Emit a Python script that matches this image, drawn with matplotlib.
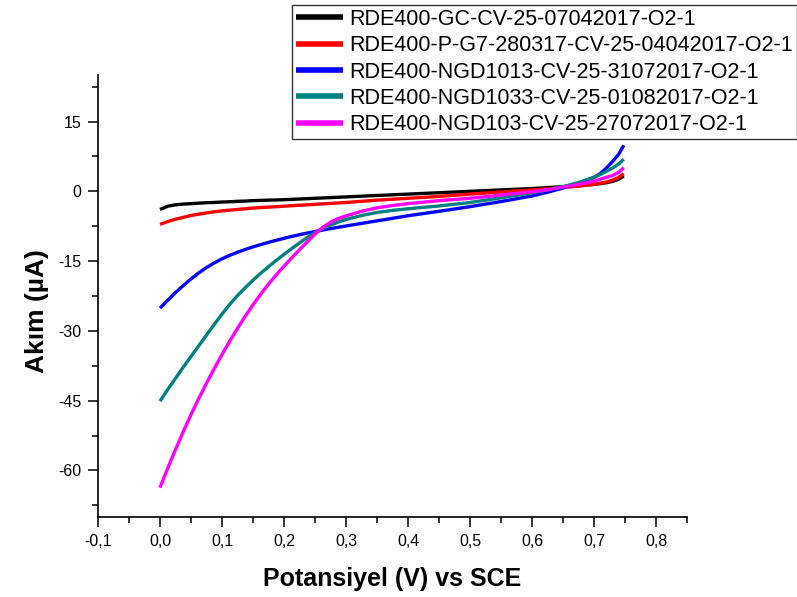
import matplotlib
matplotlib.use("Agg")
import matplotlib.pyplot as plt
from matplotlib.ticker import MultipleLocator, FuncFormatter

# Potential (V vs SCE) at which each current was read
potential = [0.0, 0.0125, 0.025, 0.0375, 0.05, 0.0625, 0.075, 0.0875, 0.1, 0.1125,
             0.125, 0.1375, 0.15, 0.1625, 0.175, 0.1875, 0.2, 0.2125, 0.225, 0.2375,
             0.25, 0.2625, 0.275, 0.2875, 0.3, 0.325, 0.35, 0.375, 0.4, 0.45,
             0.5, 0.55, 0.6, 0.625, 0.65, 0.675, 0.7, 0.71, 0.72, 0.73,
             0.74, 0.748]

# Current (µA) for each electrode
gc = [-3.9, -3.2, -2.9, -2.75, -2.65, -2.55, -2.45, -2.4, -2.3, -2.25,
      -2.15, -2.1, -2.0, -1.95, -1.9, -1.85, -1.8, -1.72, -1.65, -1.58,
      -1.5, -1.43, -1.35, -1.28, -1.2, -1.05, -0.9, -0.75, -0.6, -0.3,
      0.0, 0.3, 0.6, 0.8, 1.0, 1.2, 1.5, 1.65, 1.85, 2.15,
      2.6, 3.3]
pg7 = [-7.1, -6.5, -6.0, -5.6, -5.2, -4.9, -4.65, -4.4, -4.2, -4.05,
       -3.9, -3.75, -3.6, -3.5, -3.4, -3.3, -3.2, -3.1, -3.0, -2.9,
       -2.8, -2.7, -2.6, -2.5, -2.4, -2.15, -1.9, -1.7, -1.5, -1.1,
       -0.6, -0.15, 0.3, 0.55, 0.8, 1.1, 1.5, 1.75, 2.0, 2.4,
       3.0, 3.8]
ngd1013 = [-25.1, -23.4, -21.78, -20.26, -18.84, -17.54, -16.39, -15.39, -14.5, -13.75,
           -13.1, -12.5, -11.95, -11.45, -10.98, -10.53, -10.1, -9.7, -9.32, -8.97,
           -8.64, -8.32, -8.02, -7.73, -7.45, -6.9, -6.35, -5.8, -5.25, -4.3,
           -3.3, -2.2, -1.0, -0.2, 0.7, 1.7, 3.0, 3.8, 5.0, 6.4,
           8.0, 9.9]
ngd1033 = [-45.1, -42.6, -40.2, -37.8, -35.5, -33.2, -30.9, -28.6, -26.4, -24.3,
           -22.4, -20.7, -19.1, -17.6, -16.2, -14.85, -13.55, -12.3, -11.1, -9.95,
           -8.9, -8.0, -7.25, -6.6, -6.05, -5.2, -4.55, -4.1, -3.75, -3.15,
           -2.4, -1.4, -0.3, 0.3, 1.0, 1.9, 3.0, 3.6, 4.3, 5.0,
           5.9, 6.9]
ngd103 = [-63.7, -59.5, -55.5, -51.65, -48.0, -44.55, -41.25, -38.1, -35.1, -32.2,
          -29.45, -26.85, -24.4, -22.1, -19.95, -17.95, -16.1, -14.3, -12.55, -10.85,
          -9.2, -7.75, -6.65, -5.85, -5.3, -4.3, -3.55, -3.05, -2.65, -2.0,
          -1.5, -0.8, -0.1, 0.35, 0.9, 1.5, 2.2, 2.6, 3.0, 3.4,
          4.1, 5.1]

series = [
    ("RDE400-GC-CV-25-07042017-O2-1", gc, "#000000"),
    ("RDE400-P-G7-280317-CV-25-04042017-O2-1", pg7, "#ff0000"),
    ("RDE400-NGD1013-CV-25-31072017-O2-1", ngd1013, "#0000ff"),
    ("RDE400-NGD1033-CV-25-01082017-O2-1", ngd1033, "#008080"),
    ("RDE400-NGD103-CV-25-27072017-O2-1", ngd103, "#ff00ff"),
]

plt.rcParams["font.family"] = ["Liberation Sans", "DejaVu Sans"]

W, H = 797, 597
fig = plt.figure(figsize=(W / 100, H / 100), dpi=100)
ax = fig.add_axes([98 / W, 1 - 517 / H, (687 - 98) / W, (517 - 75) / H])

for label, values, color in series:
    ax.plot(potential, values, color=color, lw=2.4, label=label,
            solid_capstyle="butt", solid_joinstyle="round")

ax.set_xlim(-0.1, 0.85)
ax.set_ylim(-70, 25)
ax.xaxis.set_major_locator(MultipleLocator(0.1))
ax.xaxis.set_minor_locator(MultipleLocator(0.05))
ax.yaxis.set_major_locator(MultipleLocator(15))
ax.yaxis.set_minor_locator(MultipleLocator(7.5))

ax.xaxis.set_major_formatter(
    FuncFormatter(lambda v, p: ("%.1f" % v).replace(".", ",").replace("-0,0", "0,0")))
ax.yaxis.set_major_formatter(FuncFormatter(lambda v, p: "%d" % round(v)))

for side in ("top", "right"):
    ax.spines[side].set_visible(False)
for side in ("left", "bottom"):
    ax.spines[side].set_linewidth(1.2)
ax.tick_params(which="major", direction="out", length=7, width=1.1,
               labelsize=11.5, pad=5)
ax.tick_params(which="minor", direction="out", length=4, width=1.1)

ax.set_xlabel("Potansiyel (V) vs SCE", fontsize=18, fontweight="bold", labelpad=13)
ax.set_ylabel("Akım (µA)", fontsize=19, fontweight="bold")
ax.yaxis.set_label_coords(-0.083, 0.466)
ax.patch.set_alpha(0)

leg = fig.legend(loc="upper right", bbox_to_anchor=(1.0, 1 - 5 / H),
                 bbox_transform=fig.transFigure, fontsize=15.5,
                 frameon=True, fancybox=False, edgecolor="black",
                 handlelength=2.2, handletextpad=0.3, labelspacing=0.25,
                 borderpad=0.18, borderaxespad=0)
leg.get_frame().set_linewidth(1.0)
for line in leg.get_lines():
    line.set_linewidth(4)

fig.savefig("out.png", dpi=100)
